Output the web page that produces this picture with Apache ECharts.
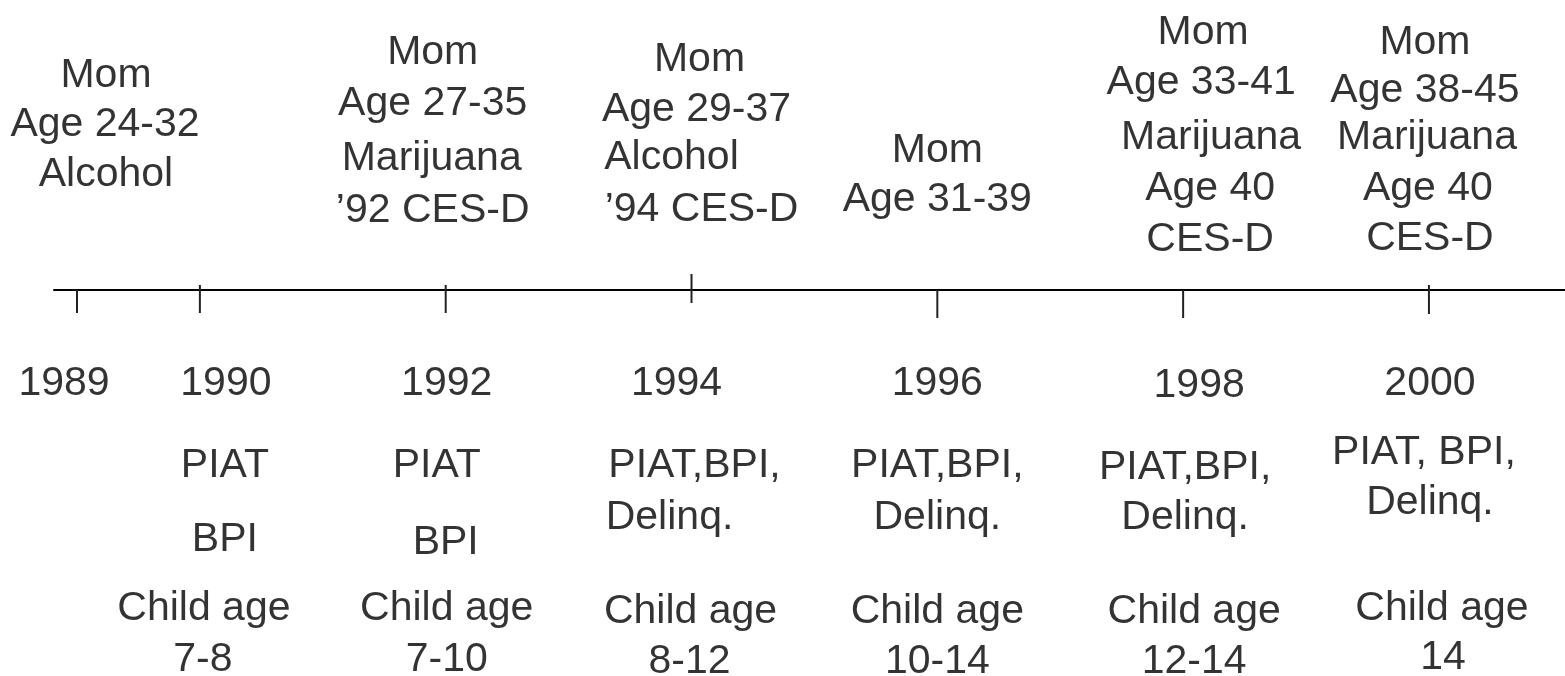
<!DOCTYPE html>
<html>
<head>
<meta charset="utf-8">
<script src="https://cdn.jsdelivr.net/npm/echarts@6/dist/echarts.min.js"></script>
<style>
html,body{margin:0;padding:0;background:#fff;}
#chart{width:1565px;height:676px;}
</style>
</head>
<body>
<div id="chart"></div>
<script>
// ---- data ----
const years = [1989, 1990, 1992, 1994, 1996, 1998, 2000];
const yearLabels = ['1989', '1990', '1992', '1994', '1996', '1998', '2000'];
const momInfo = [
  ['Mom', 'Age 24-32', 'Alcohol'],
  [],
  ['Mom', 'Age 27-35', 'Marijuana', '\u201992 CES-D'],
  ['Mom', 'Age 29-37', 'Alcohol', '\u201994 CES-D'],
  ['Mom', 'Age 31-39'],
  ['Mom', 'Age 33-41', 'Marijuana', 'Age 40', 'CES-D'],
  ['Mom', 'Age 38-45', 'Marijuana', 'Age 40', 'CES-D']
];
const measures = [
  [],
  ['PIAT', 'BPI'],
  ['PIAT', 'BPI'],
  ['PIAT,BPI,', 'Delinq.'],
  ['PIAT,BPI,', 'Delinq.'],
  ['PIAT,BPI,', 'Delinq.'],
  ['PIAT, BPI,', 'Delinq.']
];
const childAgeTitle = 'Child age';
const childAges = [null, '7-8', '7-10', '8-12', '10-14', '12-14', '14'];

// ---- layout (pixel rows, offsets; not data) ----
const AXIS_Y = 290;
const TEXT_SHIFT = 3;
const layout = {
  tick: [[0, 23], [-5, 23], [-5, 23], [-16, 13], [0, 28], [0, 28], [-5, 24]],
  momY: [[73, 122, 172], [], [50, 101, 156, 208], [57, 107, 155, 207], [148, 197], [30, 80, 135, 186, 237], [40, 88, 135, 186, 236]],
  momDx: [[29, 28, 29], [], [-13, -13, -14, -13], [8, 5, -20, 10], [0, 0], [20, 18, 28, 27, 27], [-4, -4, -2, -1, 1]],
  yearY: [381, 381, 381, 381, 381, 383, 381],
  yearDx: [-13, 26, 1, -15, 0, 16, 1],
  measY: [[], [463, 537], [463, 540], [463, 515], [463, 515], [465, 515], [450, 500]],
  measDx: [[], [25, 25], [-9, 0], [3, -22], [0, 0], [2, 2], [-5, 1]],
  childY: [[], [606, 657], [606, 657], [609, 659], [609, 659], [609, 659], [606, 655]],
  childDx: [[], [4, 3], [1, 1], [-1, -2], [0, 0], [11, 11], [13, 14]]
};

const texts = [];
function addText(year, yPix, text, dx) {
  texts.push({ value: [year, yPix + TEXT_SHIFT - AXIS_Y], text: text, label: { offset: [dx, 0] } });
}
years.forEach(function (yr, i) {
  momInfo[i].forEach(function (t, k) { addText(yr, layout.momY[i][k], t, layout.momDx[i][k]); });
  addText(yr, layout.yearY[i], yearLabels[i], layout.yearDx[i]);
  measures[i].forEach(function (t, k) { addText(yr, layout.measY[i][k], t, layout.measDx[i][k]); });
  if (childAges[i]) {
    addText(yr, layout.childY[i][0], childAgeTitle, layout.childDx[i][0]);
    addText(yr, layout.childY[i][1], childAges[i], layout.childDx[i][1]);
  }
});

const tickData = years.map(function (yr, i) { return [yr, layout.tick[i][0], layout.tick[i][1]]; });

const chart = echarts.init(document.getElementById('chart'), null, { renderer: 'canvas' });
chart.setOption({
  animation: false,
  backgroundColor: '#ffffff',
  grid: { left: 54, right: 0, top: 0, bottom: 0, containLabel: false },
  xAxis: {
    type: 'value',
    min: 1988.813,
    max: 2001.107,
    axisLine: { show: true, onZero: true, lineStyle: { color: '#000', width: 2 } },
    axisTick: { show: false },
    axisLabel: { show: false },
    splitLine: { show: false }
  },
  yAxis: {
    type: 'value',
    inverse: true,
    min: -AXIS_Y,
    max: 676 - AXIS_Y,
    show: false,
    splitLine: { show: false }
  },
  series: [
    {
      type: 'custom',
      silent: true,
      data: tickData,
      renderItem: function (params, api) {
        const x = api.value(0);
        const a = api.coord([x, api.value(1)]);
        const b = api.coord([x, api.value(2)]);
        return {
          type: 'line',
          shape: { x1: a[0], y1: a[1], x2: b[0], y2: b[1] },
          style: { stroke: '#222', lineWidth: 2 }
        };
      }
    },
    {
      type: 'scatter',
      silent: true,
      symbolSize: 0,
      data: texts,
      label: {
        show: true,
        position: 'inside',
        align: 'center',
        verticalAlign: 'middle',
        color: '#000000',
        fontFamily: '"Liberation Sans", Arial, sans-serif',
        fontSize: 41,
        formatter: function (p) { return p.data.text; }
      }
    }
  ]
});
</script>
</body>
</html>
